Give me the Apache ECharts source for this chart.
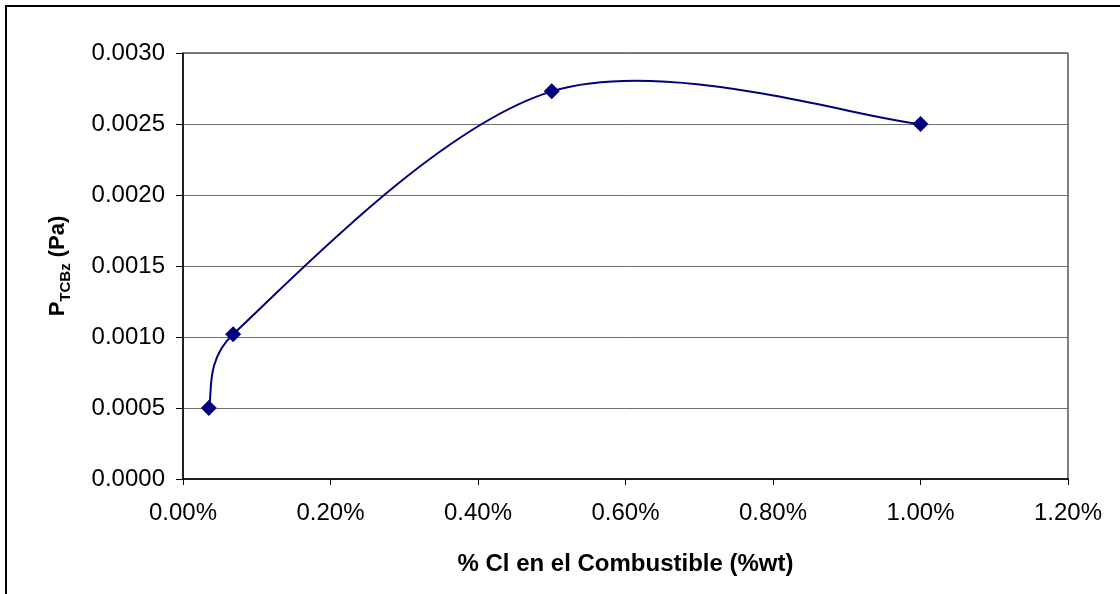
<!DOCTYPE html>
<html>
<head>
<meta charset="utf-8">
<script src="https://cdn.jsdelivr.net/npm/echarts@6/dist/echarts.min.js"></script>
<style>
  html, body { margin: 0; padding: 0; background: #ffffff; }
  #chart { width: 1120px; height: 594px; }
</style>
</head>
<body>
<div id="chart"></div>
<script>
// Chlorine content of the fuel (% by weight)
const clPercent = [0.035, 0.068, 0.5, 1.0];
// Partial pressure of trichlorobenzene (Pa)
const pTCBz = [0.0005, 0.00102, 0.00273, 0.0025];
// Axis ticks
const xTicks = [0, 0.2, 0.4, 0.6, 0.8, 1.0, 1.2];
const yTicks = [0, 0.0005, 0.001, 0.0015, 0.002, 0.0025, 0.003];

const points = clPercent.map((x, i) => [x, pTCBz[i]]);
const FONT = '"Liberation Sans", Arial, sans-serif';
const NAVY = '#000080';

// Spreadsheet-style smoothed segment between point i and i+1:
// tangent follows the neighbours, arm = min(chord/6, half of the segment).
function renderSegment(params, api) {
  const i = params.dataIndex;
  const n = points.length;
  if (i >= n - 1) return null;
  const px = k => api.coord(points[Math.max(0, Math.min(n - 1, k))]);
  const p0 = px(i - 1), p1 = px(i), p2 = px(i + 1), p3 = px(i + 2);
  const dist = (a, b) => Math.hypot(b[0] - a[0], b[1] - a[1]);
  const seg = dist(p1, p2);
  function arm(a, b) {
    const d = dist(a, b);
    if (d === 0) return [0, 0];
    const len = Math.min(d / 6, seg / 2);
    return [(b[0] - a[0]) / d * len, (b[1] - a[1]) / d * len];
  }
  const a1 = arm(p0, p2);
  const a2 = arm(p1, p3);
  return {
    type: 'bezierCurve',
    shape: {
      x1: p1[0], y1: p1[1],
      cpx1: p1[0] + a1[0], cpy1: p1[1] + a1[1],
      cpx2: p2[0] - a2[0], cpy2: p2[1] - a2[1],
      x2: p2[0], y2: p2[1]
    },
    style: { stroke: NAVY, lineWidth: 2, fill: null }
  };
}

const chart = echarts.init(document.getElementById('chart'));
chart.setOption({
  backgroundColor: '#ffffff',
  animation: false,
  grid: {
    left: 183, right: 52, top: 53, bottom: 115,
    show: true, borderColor: '#000000', borderWidth: 1, backgroundColor: 'transparent'
  },
  xAxis: {
    type: 'value',
    min: xTicks[0], max: xTicks[xTicks.length - 1], interval: 0.2,
    name: '% Cl en el Combustible (%wt)',
    nameLocation: 'middle', nameGap: 73,
    nameTextStyle: { fontFamily: FONT, fontSize: 24, fontWeight: 'bold', color: '#000' },
    axisLine: { show: true, lineStyle: { color: '#000', width: 1.5 } },
    axisTick: { show: true, inside: false, length: 6, lineStyle: { color: '#000' } },
    axisLabel: {
      fontFamily: FONT, fontSize: 24, color: '#000', margin: 22,
      formatter: v => v.toFixed(2) + '%'
    },
    splitLine: { show: false }
  },
  yAxis: {
    type: 'value',
    min: yTicks[0], max: yTicks[yTicks.length - 1], interval: 0.0005,
    name: '{p|P}{s|TCBz}{p| (Pa)}',
    nameLocation: 'middle', nameGap: 110, nameRotate: 90,
    nameTextStyle: {
      fontFamily: FONT, fontWeight: 'bold', color: '#000',
      rich: {
        p: { fontFamily: FONT, fontSize: 22, fontWeight: 'bold', color: '#000', lineHeight: 26, verticalAlign: 'top' },
        s: { fontFamily: FONT, fontSize: 15, fontWeight: 'bold', color: '#000', lineHeight: 26, verticalAlign: 'bottom', padding: [10, 0, 0, 0] }
      }
    },
    axisLine: { show: true, lineStyle: { color: '#000', width: 1.5 } },
    axisTick: { show: true, inside: false, length: 7, lineStyle: { color: '#000' } },
    axisLabel: {
      fontFamily: FONT, fontSize: 24, color: '#000', margin: 18,
      formatter: v => v.toFixed(4)
    },
    splitLine: { show: true, lineStyle: { color: '#707070', width: 1 } }
  },
  graphic: [{
    type: 'rect',
    shape: { x: 6, y: 6, width: 1130, height: 600 },
    style: { fill: 'none', stroke: '#000', lineWidth: 2 },
    silent: true
  }],
  series: [
    {
      type: 'custom',
      data: points,
      encode: { x: 0, y: 1 },
      renderItem: renderSegment,
      z: 2
    },
    {
      type: 'scatter',
      data: points,
      symbol: 'diamond',
      symbolSize: 16,
      itemStyle: { color: NAVY, opacity: 1 },
      z: 3
    }
  ]
});
</script>
</body>
</html>
